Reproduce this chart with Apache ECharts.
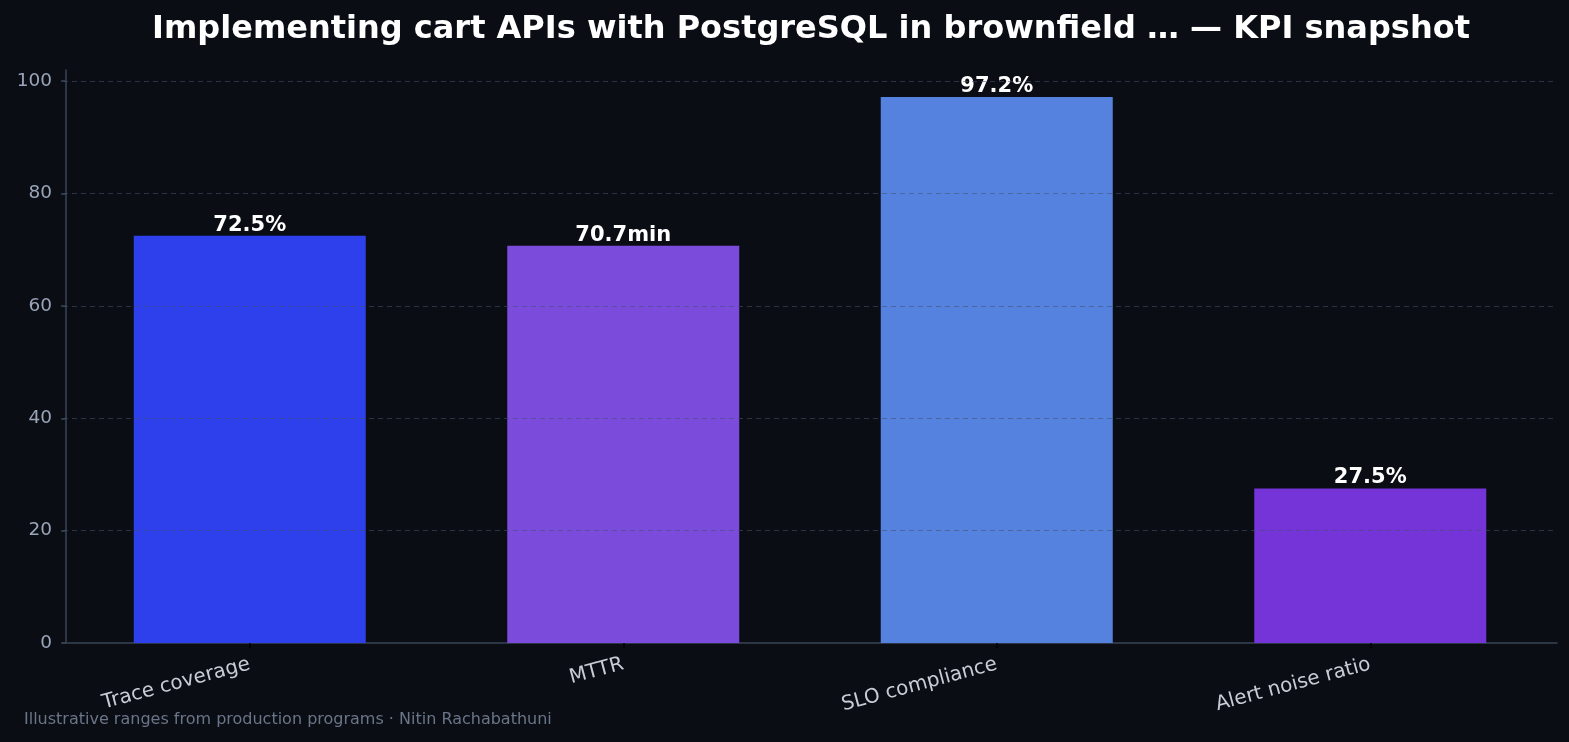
<!DOCTYPE html>
<html>
<head>
<meta charset="utf-8">
<script src="https://cdn.jsdelivr.net/npm/echarts@6/dist/echarts.min.js"></script>
<style>
  html, body { margin: 0; padding: 0; background: #0a0d14; }
  #chart { width: 1569px; height: 742px; }
</style>
</head>
<body>
<div id="chart"></div>
<script>
const categories = ["Trace coverage", "MTTR", "SLO compliance", "Alert noise ratio"];
const values = [72.5, 70.7, 97.2, 27.5];
const valueLabels = ["72.5%", "70.7min", "97.2%", "27.5%"];
const barColors = ["#2e40ec", "#7b4bdc", "#5582de", "#7434d8"];
const yTicks = [0, 20, 40, 60, 80, 100];

const chart = echarts.init(document.getElementById("chart"));

const option = {
  backgroundColor: "#0a0d14",
  animation: false,
  textStyle: { fontFamily: "DejaVu Sans" },
  title: {
    text: "Implementing cart APIs with PostgreSQL in brownfield … — KPI snapshot",
    left: 806,
    textAlign: "center",
    top: 9,
    textStyle: { color: "#ffffff", fontSize: 32, fontWeight: "bold", fontFamily: "DejaVu Sans" }
  },
  graphic: [{
    type: "text",
    left: 24,
    top: 712,
    style: {
      text: "Illustrative ranges from production programs · Nitin Rachabathuni",
      fill: "#6b7588",
      fontSize: 16,
      fontFamily: "DejaVu Sans"
    }
  }],
  grid: { left: 63, right: 12, top: 70, bottom: 99 },
  xAxis: {
    type: "category",
    data: categories,
    axisLine: { lineStyle: { color: "#3a4456", width: 1.5 } },
    axisTick: { show: true, alignWithLabel: true, length: 5, lineStyle: { color: "#000000", width: 1.5 } },
    axisLabel: { color: "#c8ccd4", fontSize: 20, rotate: 15, margin: 21, fontFamily: "DejaVu Sans" }
  },
  yAxis: {
    type: "value",
    min: 0,
    max: 102,
    interval: 20,
    offset: -3,
    axisLine: { show: true, lineStyle: { color: "#3a4456", width: 1.5 } },
    axisTick: { show: true, length: 5, customValues: yTicks, lineStyle: { color: "#3a4456", width: 1.5 } },
    axisLabel: {
      color: "#9aa5b8",
      fontSize: 18.5,
      margin: 14,
      fontFamily: "DejaVu Sans",
      customValues: yTicks
    },
    splitLine: { show: false }
  },
  series: [{
    type: "bar",
    barWidth: 232,
    data: values.map(function (v, i) {
      return { value: v, itemStyle: { color: barColors[i] } };
    }),
    label: {
      show: true,
      position: "top",
      distance: 0,
      color: "#ffffff",
      fontSize: 21,
      fontWeight: "bold",
      fontFamily: "DejaVu Sans",
      formatter: function (p) { return valueLabels[p.dataIndex]; }
    },
    // horizontal grid lines drawn over the bars, as in the source
    markLine: {
      silent: true,
      symbol: "none",
      label: { show: false },
      z: 5,
      lineStyle: { color: "rgba(70,82,105,0.55)", type: [5, 4], width: 1 },
      data: yTicks.slice(1).map(function (t) { return { yAxis: t }; })
    }
  }]
};

chart.setOption(option);
</script>
</body>
</html>
